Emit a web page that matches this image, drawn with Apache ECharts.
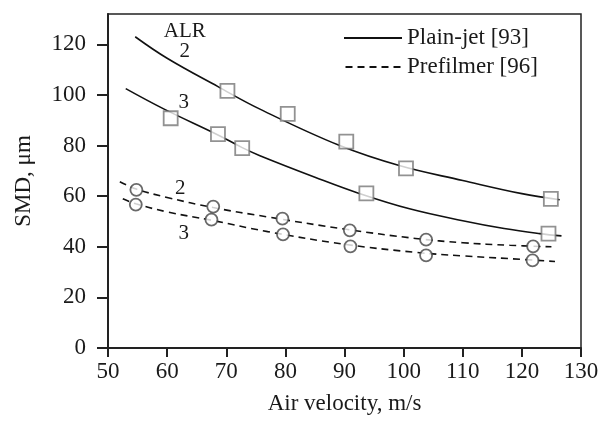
<!DOCTYPE html>
<html>
<head>
<meta charset="utf-8">
<script src="https://cdn.jsdelivr.net/npm/echarts@6/dist/echarts.min.js"></script>
<style>
  html, body { margin: 0; padding: 0; background: #fff; }
  #main { width: 603px; height: 422px; }
</style>
</head>
<body>
<div id="main"></div>
<script>
// axis ticks
var xTicks = [50, 60, 70, 80, 90, 100, 110, 120, 130];
var yTicks = [0, 20, 40, 60, 80, 100, 120];

// fitted curves
var plainAlr2Curve = [[54.6, 123], [60, 114.5], [68.6, 103.3], [75.7, 94.4], [89.2, 80], [99.4, 72], [110, 66.2], [120, 61], [126.4, 58.6]];
var plainAlr3Curve = [[53, 102.5], [59.5, 94.4], [68.6, 84.2], [72.7, 79.2], [75.7, 76], [85, 67.5], [92.6, 61], [101, 55], [110, 50.3], [117, 47.2], [123, 45.2], [126.7, 44.3]];
var prefAlr2Curve = [[52, 65.7], [54.8, 62.8], [60, 59.5], [67.8, 55.5], [77, 51.8], [90, 47], [102, 43.3], [110, 41.6], [118, 40.6], [125, 40]];
var prefAlr3Curve = [[52.5, 59], [54.7, 57], [60, 53.8], [67.5, 50.5], [77, 46], [90, 41], [102, 37.8], [110, 36.4], [118, 35.3], [125.6, 34.2]];

// measured points
var plainAlr2Pts = [[70.2, 101.6], [80.4, 92.5], [90.3, 81.6], [100.4, 71], [124.9, 58.9]];
var plainAlr3Pts = [[60.6, 90.8], [68.6, 84.5], [72.7, 79], [93.7, 61.1], [124.5, 45.2]];
var prefAlr2Pts = [[54.8, 62.5], [67.8, 55.9], [79.5, 51.1], [90.9, 46.5], [103.8, 42.8], [121.9, 40.2]];
var prefAlr3Pts = [[54.7, 56.7], [67.5, 50.7], [79.6, 44.9], [91, 40.2], [103.8, 36.6], [121.8, 34.6]];

// ALR labels on the curves
var labelTexts = ['ALR', '2', '3', '2', '3'];
var labelPos = [[63, 125.2], [63, 117.3], [62.8, 97.2], [62.2, 63], [62.8, 45.3]];

(function () {
    var myChart = echarts.init(document.getElementById('main'));
    var font = 'Liberation Serif';
    var ink = '#1a1a1a';

    var labelData = labelPos.map(function (p, i) {
        return { value: p, name: labelTexts[i] };
    });

    // legend samples: a solid bar and a dashed bar
    var solidIcon = 'path://M0,0L58,0L58,2L0,2Z';
    var dashIcon = 'path://M0,0L7,0L7,2L0,2ZM12,0L19,0L19,2L12,2ZM24,0L31,0L31,2L24,2ZM36,0L43,0L43,2L36,2ZM48,0L55,0L55,2L48,2Z';

    function curve(name, data, dashed) {
        return {
            name: name,
            type: 'line',
            data: data,
            smooth: 0.4,
            symbol: 'none',
            silent: true,
            color: '#111',
            z: 2,
            lineStyle: { color: '#111', width: 1.6, type: dashed ? [7, 5] : 'solid' }
        };
    }

    function marks(data, symbol, size, color) {
        return {
            name: 'pts',
            type: 'scatter',
            data: data,
            symbol: symbol,
            symbolSize: size,
            z: 5,
            itemStyle: { color: '#fff', borderColor: color, borderWidth: 1.8 }
        };
    }

    var option = {
        backgroundColor: '#fff',
        animation: false,
        textStyle: { fontFamily: font, color: ink },
        grid: {
            left: 108, right: 22, top: 14, bottom: 74,
            show: true, borderColor: '#222', borderWidth: 1.5
        },
        legend: {
            data: [
                { name: 'Plain-jet [93]', icon: solidIcon, itemStyle: { color: '#111' } },
                { name: 'Prefilmer [96]', icon: dashIcon, itemStyle: { color: '#111' } }
            ],
            orient: 'vertical',
            left: 339, top: 21,
            itemWidth: 58, itemHeight: 2, itemGap: 5,
            textStyle: { fontFamily: font, fontSize: 23, color: ink, lineHeight: 24 }
        },
        xAxis: {
            type: 'value',
            min: 50, max: 130, interval: 10,
            name: 'Air velocity, m/s',
            nameLocation: 'middle',
            nameGap: 44,
            nameTextStyle: { fontFamily: font, fontSize: 23, color: ink },
            splitLine: { show: false },
            axisLine: { lineStyle: { color: '#222', width: 2 } },
            axisTick: { customValues: xTicks, length: 9, lineStyle: { color: '#222', width: 2 } },
            axisLabel: { customValues: xTicks, margin: 12, fontFamily: font, fontSize: 23, color: ink }
        },
        yAxis: {
            type: 'value',
            min: 0, max: 132,
            name: 'SMD, μm',
            nameLocation: 'middle',
            nameGap: 73,
            nameTextStyle: { fontFamily: font, fontSize: 23, color: ink },
            splitLine: { show: false },
            axisLine: { lineStyle: { color: '#222', width: 2 } },
            axisTick: { customValues: yTicks, length: 11, lineStyle: { color: '#222', width: 2 } },
            axisLabel: { customValues: yTicks, margin: 22, fontFamily: font, fontSize: 23, color: ink }
        },
        series: [
            curve('Plain-jet [93]', plainAlr2Curve, false),
            curve('Plain-jet [93]', plainAlr3Curve, false),
            curve('Prefilmer [96]', prefAlr2Curve, true),
            curve('Prefilmer [96]', prefAlr3Curve, true),
            marks(plainAlr2Pts, 'rect', 14, '#777'),
            marks(plainAlr3Pts, 'rect', 14, '#777'),
            marks(prefAlr2Pts, 'circle', 12, '#444'),
            marks(prefAlr3Pts, 'circle', 12, '#444'),
            {
                name: 'labels',
                type: 'scatter',
                data: labelData,
                symbolSize: 0,
                silent: true,
                z: 6,
                itemStyle: { opacity: 1 },
                label: {
                    show: true,
                    position: 'inside',
                    formatter: '{b}',
                    fontFamily: font,
                    fontSize: 21,
                    color: ink
                }
            }
        ]
    };

    myChart.setOption(option);
})();
</script>
</body>
</html>
